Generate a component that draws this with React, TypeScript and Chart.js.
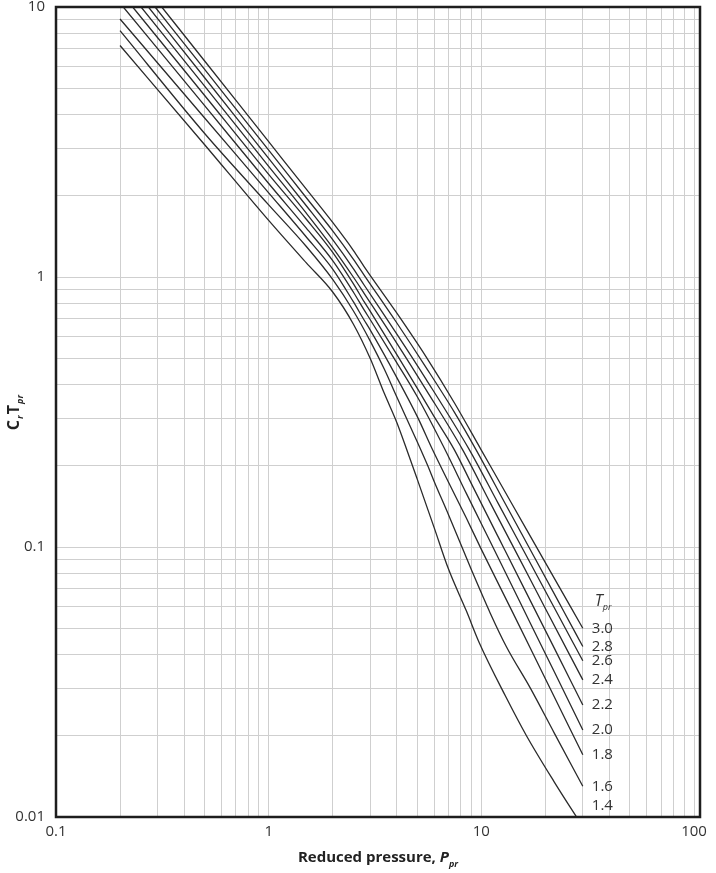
import React, { useEffect, useRef } from 'react';
import { Chart, registerables } from 'chart.js';

Chart.register(...registerables);

// Grid positions (log axes) and labelled decades
const xGrid = [0.1, 0.2, 0.3, 0.4, 0.5, 0.6, 0.7, 0.8, 0.9, 1, 2, 3, 4, 5, 6, 7, 8, 9, 10, 20, 30, 40, 50, 60, 70, 80, 90, 100];
const yGrid = [0.01, 0.02, 0.03, 0.04, 0.05, 0.06, 0.07, 0.08, 0.09, 0.1, 0.2, 0.3, 0.4, 0.5, 0.6, 0.7, 0.8, 0.9, 1, 2, 3, 4, 5, 6, 7, 8, 9, 10];
const xLabels = [0.1, 1, 10, 100];
const yLabels = [0.01, 0.1, 1, 10];

// Curves: [reduced pressure, Cr*Tpr]
const curve14: [number, number][] = [[0.2, 7.2], [0.5, 3.09], [1, 1.62], [1.5, 1.13], [2, 0.88], [2.5, 0.67], [3, 0.5], [3.5, 0.37], [4, 0.29], [4.5, 0.225], [5, 0.178], [6, 0.118], [7, 0.083], [8.5, 0.058], [9.8, 0.044], [13, 0.028], [16.3, 0.02], [22, 0.0135], [30, 0.0092]];
const curve16: [number, number][] = [[0.2, 8.17], [0.5, 3.4], [1, 1.85], [1.5, 1.3], [2, 0.98], [2.5, 0.75], [3, 0.58], [3.5, 0.455], [4, 0.36], [5, 0.245], [5.6, 0.2], [6, 0.175], [7, 0.132], [9, 0.082], [11, 0.057], [13.1, 0.0428], [17, 0.03], [22, 0.0205], [30, 0.013]];
const curve18: [number, number][] = [[0.2, 9.03], [0.5, 3.88], [1, 2.05], [1.5, 1.41], [2, 1.07], [2.5, 0.81], [2.81, 0.693], [3, 0.637], [4, 0.425], [5, 0.304], [5.9, 0.229], [7, 0.174], [8.5, 0.128], [10, 0.098], [14, 0.0575], [20, 0.0325], [30, 0.017]];
const curve20: [number, number][] = [[0.2072, 10], [0.5, 4.31], [1, 2.22], [1.5, 1.52], [2, 1.15], [2.5, 0.88], [2.81, 0.755], [3, 0.696], [4, 0.482], [5, 0.36], [6.7, 0.232], [8.5, 0.158], [10, 0.122], [13, 0.0803], [17, 0.0522], [22, 0.0346], [30, 0.021]];
const curve22: [number, number][] = [[0.2294, 10], [0.5, 4.7], [1, 2.4], [1.5, 1.64], [2, 1.234], [2.5, 0.945], [2.81, 0.81], [3, 0.747], [4, 0.517], [5, 0.387], [6, 0.304], [7.47, 0.229], [9, 0.171], [12, 0.109], [16, 0.0695], [22, 0.0423], [30, 0.026]];
const curve24: [number, number][] = [[0.2512, 10], [0.5, 5.09], [1, 2.57], [1.5, 1.727], [2, 1.285], [2.5, 1.0], [2.81, 0.87], [4, 0.569], [5.5, 0.382], [8.17, 0.229], [11, 0.146], [15, 0.0915], [20, 0.0592], [30, 0.0322]];
const curve26: [number, number][] = [[0.272, 10], [0.5, 5.47], [1, 2.75], [1.5, 1.84], [2, 1.375], [2.5, 1.075], [2.81, 0.934], [4, 0.616], [5.5, 0.418], [8.79, 0.229], [12, 0.145], [16, 0.0952], [22, 0.0597], [30, 0.0379]];
const curve28: [number, number][] = [[0.2924, 10], [0.5, 5.87], [1, 2.95], [1.5, 1.97], [2, 1.482], [2.5, 1.165], [2.81, 1.017], [4, 0.677], [5.5, 0.462], [7.5, 0.314], [9.45, 0.229], [13, 0.144], [18, 0.0899], [24, 0.0592], [30, 0.0428]];
const curve30: [number, number][] = [[0.3143, 10], [0.5, 6.31], [1, 3.17], [1.5, 2.12], [2, 1.592], [2.5, 1.256], [2.81, 1.093], [4, 0.736], [5.5, 0.506], [7.5, 0.34], [9.98, 0.229], [14, 0.1434], [20, 0.0875], [30, 0.05]];

const tprValues = ['1.4', '1.6', '1.8', '2.0', '2.2', '2.4', '2.6', '2.8', '3.0'];
const curveList = [curve14, curve16, curve18, curve20, curve22, curve24, curve26, curve28, curve30];

const FONT = '"Open Sans", "Noto Sans", sans-serif';
const TEXT = '#333333';

const textPlugin = {
  id: 'annotText',
  afterDraw(chart: any) {
    const { ctx, chartArea, scales } = chart;
    const xs = scales.x;
    const ys = scales.y;
    ctx.save();
    // frame
    ctx.strokeStyle = '#1e1e1e';
    ctx.lineWidth = 2.5;
    ctx.strokeRect(chartArea.left, chartArea.top, chartArea.right - chartArea.left, chartArea.bottom - chartArea.top);

    // curve-end labels
    ctx.fillStyle = TEXT;
    ctx.textBaseline = 'middle';
    ctx.textAlign = 'left';
    ctx.font = `15px ${FONT}`;
    curveList.forEach((pts, i) => {
      const last = pts[pts.length - 1];
      const lx = xs.getPixelForValue(last[0]) + 9;
      let ly = ys.getPixelForValue(last[1]);
      if (ly > chartArea.bottom - 11) ly = chartArea.bottom - 11;
      ctx.fillText(tprValues[i], lx, ly);
    });
    // Tpr header
    const hx = xs.getPixelForValue(30) + 12;
    const hy = ys.getPixelForValue(curve30[curve30.length - 1][1]) - 27;
    ctx.font = `italic 16px ${FONT}`;
    ctx.fillText('T', hx, hy);
    const tw = ctx.measureText('T').width;
    ctx.font = `italic 9px ${FONT}`;
    ctx.fillText('pr', hx + tw, hy + 6);

    // x title
    const cx = (chartArea.left + chartArea.right) / 2;
    const ty = 858;
    ctx.font = `bold 15px ${FONT}`;
    const mainTxt = 'Reduced pressure, ';
    const w1 = ctx.measureText(mainTxt).width;
    ctx.font = `italic bold 15px ${FONT}`;
    const w2 = ctx.measureText('P').width;
    ctx.font = `italic bold 9px ${FONT}`;
    const w3 = ctx.measureText('pr').width;
    let sx = cx - (w1 + w2 + w3) / 2;
    ctx.font = `bold 15px ${FONT}`;
    ctx.fillStyle = '#222';
    ctx.fillText(mainTxt, sx, ty);
    sx += w1;
    ctx.font = `italic bold 15px ${FONT}`;
    ctx.fillText('P', sx, ty);
    sx += w2;
    ctx.font = `italic bold 9px ${FONT}`;
    ctx.fillText('pr', sx, ty + 6);

    // y title (rotated)
    ctx.translate(14, (chartArea.top + chartArea.bottom) / 2);
    ctx.rotate(-Math.PI / 2);
    ctx.textBaseline = 'middle';
    const parts: [string, string, number][] = [
      ['C', `bold 16px ${FONT}`, 0],
      ['r', `italic bold 9px ${FONT}`, 6],
      ['T', `bold 16px ${FONT}`, 0],
      ['pr', `italic bold 9px ${FONT}`, 6],
    ];
    let total = 0;
    parts.forEach(([t, f]) => { ctx.font = f; total += ctx.measureText(t).width + 1; });
    let px = -total / 2;
    parts.forEach(([t, f, dy]) => {
      ctx.font = f;
      ctx.fillText(t, px, dy);
      px += ctx.measureText(t).width + 1;
    });
    ctx.restore();
  },
};

export default function App() {
  const ref = useRef<HTMLCanvasElement | null>(null);
  useEffect(() => {
    if (!ref.current) return;
    const datasets = curveList.map((pts, i) => ({
      label: tprValues[i],
      data: pts.map(([x, y]) => ({ x, y })),
      borderColor: '#2a2a2a',
      borderWidth: 1.3,
      pointRadius: 0,
      fill: false,
      cubicInterpolationMode: 'monotone' as const,
    }));
    const chart = new Chart(ref.current, {
      type: 'line',
      data: { datasets },
      options: {
        responsive: false,
        animation: false,
        layout: { padding: { top: 7, right: 16, left: 0, bottom: 0 } },
        plugins: { legend: { display: false }, tooltip: { enabled: false } },
        scales: {
          x: {
            type: 'logarithmic',
            min: 0.1,
            max: 106.7,
            afterBuildTicks: (scale: any) => { scale.ticks = xGrid.map((v) => ({ value: v })); },
            afterFit: (scale: any) => { scale.height = 56; scale.paddingLeft = 0; scale.paddingRight = 0; },
            ticks: {
              autoSkip: false,
              maxRotation: 0,
              padding: 6,
              color: TEXT,
              font: { family: FONT, size: 15 },
              callback: (v: any) => (xLabels.includes(Number(v)) ? String(v) : ''),
            },
            grid: { color: '#cfcfcf', lineWidth: 1, drawTicks: false },
            border: { display: false },
          },
          y: {
            type: 'logarithmic',
            min: 0.01,
            max: 10,
            afterBuildTicks: (scale: any) => { scale.ticks = yGrid.map((v) => ({ value: v })); },
            afterFit: (scale: any) => { scale.width = 56; scale.paddingTop = 0; scale.paddingBottom = 0; },
            ticks: {
              autoSkip: false,
              padding: 11,
              color: TEXT,
              font: { family: FONT, size: 15 },
              callback: (v: any) => (yLabels.includes(Number(v)) ? String(v) : ''),
            },
            grid: { color: '#cfcfcf', lineWidth: 1, drawTicks: false },
            border: { display: false },
          },
        },
      },
      plugins: [textPlugin],
    });
    return () => chart.destroy();
  }, []);
  return (
    <div style={{ position: 'absolute', left: 0, top: 0, width: 716, height: 873, background: '#fff' }}>
      <canvas ref={ref} width={716} height={873} style={{ display: 'block' }} />
    </div>
  );
}
